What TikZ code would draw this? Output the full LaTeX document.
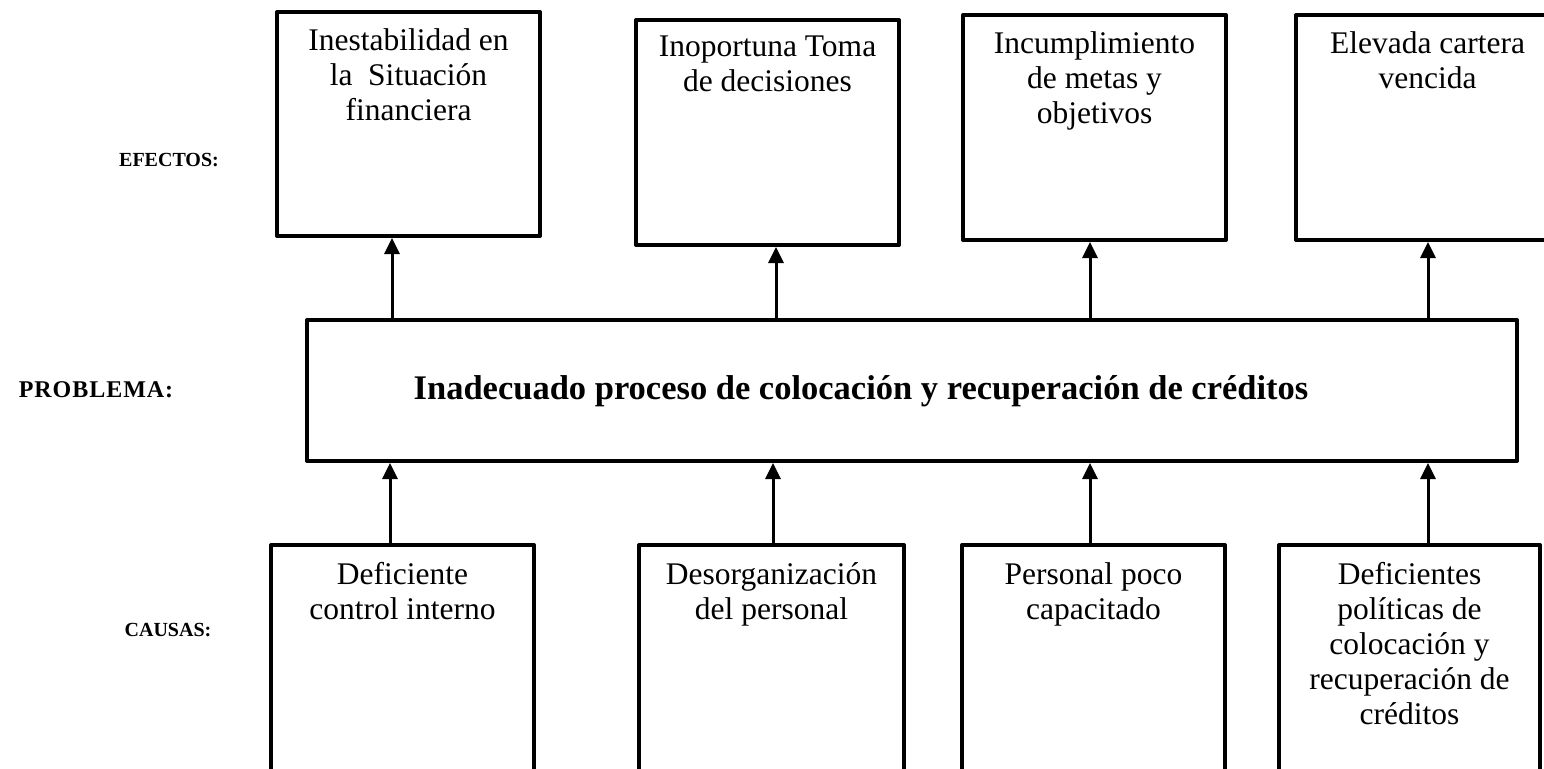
\documentclass[tikz,border=0pt]{standalone}
\usepackage{fontspec}
\setmainfont{Liberation Serif}
\usetikzlibrary{arrows.meta,calc}
\begin{document}
\begin{tikzpicture}[x=1pt,y=-1pt,
  box/.style={draw, line width=4pt, line join=round, rectangle, inner sep=0pt, anchor=north west},
  boxtext/.style={anchor=north, align=center, inner sep=0pt, font=\fontsize{31.5}{35}\selectfont},
  sidelabel/.style={font=\bfseries\fontsize{20}{24}\selectfont, inner sep=0pt},
  arr/.style={line width=3pt, -{Triangle[width=15pt,length=16pt]}}]
\useasboundingbox (0,0) rectangle (1544,768);
\clip (0,0) rectangle (1544,768);
% effects
\node[box, minimum width=263pt, minimum height=224pt] (e1) at (275,10) {};
\node[box, minimum width=263pt, minimum height=225pt] (e2) at (634,18) {};
\node[box, minimum width=263pt, minimum height=225pt] (e3) at (961,13) {};
\node[box, minimum width=263pt, minimum height=225pt] (e4) at (1294,13) {};
\node[boxtext] (t1) at ([yshift=-18pt]e1.north) {Inestabilidad en\\la~~Situación\\financiera};
\node[boxtext] (t2) at ([yshift=-18pt]e2.north) {Inoportuna Toma\\de decisiones};
\node[boxtext] (t3) at ([yshift=-18pt]e3.north) {Incumplimiento\\de metas y\\objetivos};
\node[boxtext] (t4) at ([yshift=-18pt]e4.north) {Elevada cartera\\vencida};
% problem
\node[box, minimum width=1210pt, minimum height=141pt] (p) at (305,318) {};
\node[font=\bfseries\fontsize{34.5}{40}\selectfont, inner sep=0pt] (pt) at (861,391) {Inadecuado proceso de colocación y recuperación de créditos};
% causes
\node[box, minimum width=263pt, minimum height=270pt] (c1) at (269,543) {};
\node[box, minimum width=265pt, minimum height=270pt] (c2) at (637,543) {};
\node[box, minimum width=263pt, minimum height=270pt] (c3) at (960,543) {};
\node[box, minimum width=261pt, minimum height=270pt] (c4) at (1277,543) {};
\node[boxtext] (u1) at ([yshift=-19pt]c1.north) {Deficiente\\control interno};
\node[boxtext] (u2) at ([yshift=-19pt]c2.north) {Desorganización\\del personal};
\node[boxtext] (u3) at ([yshift=-19pt]c3.north) {Personal poco\\capacitado};
\node[boxtext] (u4) at ([yshift=-19pt]c4.north) {Deficientes\\políticas de\\colocación y\\recuperación de\\créditos};
% side labels
\node[sidelabel] (lef) at (169,160) {EFECTOS:};
\node[sidelabel, font=\bfseries\fontsize{24}{28}\selectfont\addfontfeature{LetterSpace=4}] (lpr) at (96,390) {PROBLEMA:};
\node[sidelabel] (lca) at (168,630) {CAUSAS:};
% arrow columns
\coordinate (a1) at (392,0);
\coordinate (a2) at (776,0);
\coordinate (a3) at (1090,0);
\coordinate (a4) at (1428,0);
\coordinate (b1) at (390,0);
\coordinate (b2) at (773,0);
\coordinate (b3) at (1090,0);
\coordinate (b4) at (1428,0);
\draw[arr] (p.north -| a1) -- (e1.south -| a1);
\draw[arr] (p.north -| a2) -- (e2.south -| a2);
\draw[arr] (p.north -| a3) -- (e3.south -| a3);
\draw[arr] (p.north -| a4) -- (e4.south -| a4);
\draw[arr] (c1.north -| b1) -- (p.south -| b1);
\draw[arr] (c2.north -| b2) -- (p.south -| b2);
\draw[arr] (c3.north -| b3) -- (p.south -| b3);
\draw[arr] (c4.north -| b4) -- (p.south -| b4);
\end{tikzpicture}
\end{document}
